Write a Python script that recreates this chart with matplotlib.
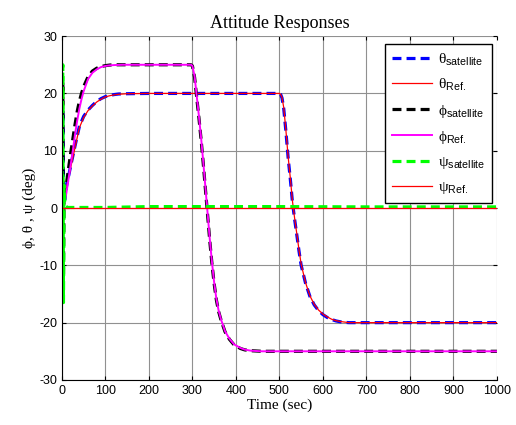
import matplotlib
matplotlib.use('Agg')
import matplotlib.pyplot as plt

# Werte (Zeit in s, Winkel in deg)
theta_ref_t = [0, 4, 10, 20, 30, 40, 50, 60, 70, 80, 90, 100, 110, 120, 130, 150, 200, 300, 400,
               500, 503, 506, 510, 515, 520, 525, 530, 535, 540, 545, 550, 560, 570, 580, 590,
               600, 610, 620, 630, 640, 650, 660, 800, 1000]
theta_ref = [0, 0, 3.3, 7, 10.5, 14, 15.8, 17, 17.8, 18.5, 19, 19.4, 19.6, 19.75, 19.85, 19.95, 20, 20, 20,
             20, 19.8, 19.3, 17.5, 13.5, 9, 5.3, 1.2, -1.8, -4.5, -7.3, -9.8, -13, -15.3, -16.8, -17.8,
             -18.5, -19, -19.4, -19.65, -19.8, -19.9, -20, -20, -20]

theta_sat_t = [0, 2, 3.5, 5, 7, 10, 20, 30, 40, 50, 60, 70, 80, 90, 100, 110, 120, 130, 150, 200, 300, 400,
               500, 503, 506, 510, 515, 520, 525, 530, 535, 540, 545, 550, 560, 570, 580, 590,
               600, 610, 620, 630, 640, 650, 660, 800, 1000]
theta_sat = [0, 17, 6, 1.5, 1.5, 3.6, 7.3, 10.8, 14.2, 16, 17.1, 17.9, 18.6, 19.1, 19.45, 19.65, 19.8, 19.9, 19.95, 20, 20, 20,
             20, 19.8, 19.2, 17.3, 13.3, 8.8, 5.1, 1, -2, -4.7, -7.5, -10, -13.1, -15.4, -16.9, -17.9,
             -18.6, -19.1, -19.45, -19.7, -19.85, -19.95, -20, -20, -20]

phi_ref_t = [0, 4, 10, 15, 20, 25, 30, 35, 40, 45, 50, 60, 70, 80, 90, 100, 110, 120, 140, 200,
             297, 300, 305, 310, 315, 320, 325, 330, 335, 340, 345, 350, 355, 360, 366, 375, 385,
             396, 410, 420, 435, 460, 700, 1000]
phi_ref = [0, 0, 2.5, 5, 7.5, 10, 12.8, 15.2, 17.3, 19, 20.4, 22.5, 23.6, 24.2, 24.6, 24.8, 24.9, 24.95, 25, 25,
           25, 24.8, 23, 19.5, 16, 12.2, 8, 3.5, -1, -5.5, -9.5, -13, -15.8, -17.8, -19.5, -21.5, -22.8,
           -23.8, -24.4, -24.7, -24.9, -25, -25, -25]

phi_sat_t = [0, 2, 3.5, 5, 7, 10, 15, 20, 25, 30, 35, 40, 45, 50, 60, 70, 80, 90, 100, 110, 120, 140, 200,
             297, 300, 305, 310, 315, 320, 325, 330, 335, 340, 345, 350, 355, 360, 366, 375, 385,
             396, 410, 420, 435, 460, 700, 1000]
phi_sat = [0, 22, -12, 3, 2.5, 4, 6.8, 9.5, 12, 14.5, 16.8, 18.6, 20, 21.2, 22.9, 23.9, 24.4, 24.7, 24.85, 24.95, 25, 25, 25,
           25, 24.8, 22.8, 19.2, 15.7, 11.9, 7.7, 3.2, -1.3, -5.8, -9.8, -13.2, -16, -18, -19.6, -21.6, -22.9,
           -23.9, -24.5, -24.75, -24.9, -25, -25, -25]

psi_ref_t = [0, 1000]
psi_ref = [0, 0]

psi_sat_t = [0, 2, 3.5, 5, 7, 12, 100, 200, 300, 500, 700, 1000]
psi_sat = [0, 25, -16.5, 4, 0.5, 0.1, 0.1, 0.25, 0.25, 0.25, 0.2, 0.2]

plt.rcParams['mathtext.fontset'] = 'custom'
plt.rcParams['mathtext.rm'] = 'Liberation Sans'
plt.rcParams['axes.unicode_minus'] = False

fig = plt.figure(figsize=(5.16, 4.25), dpi=100)
ax = fig.add_axes([0.120, 0.106, 0.843, 0.809])

dash = (0, (2.8, 1.6))
ax.plot(theta_sat_t, theta_sat, color='#0000ff', lw=2.3, ls=dash, label='θ$_{\\rm satellite}$')
ax.plot(theta_ref_t, theta_ref, color='#ff0000', lw=0.9, label='θ$_{\\rm Ref.}$')
ax.plot(phi_sat_t, phi_sat, color='black', lw=2.3, ls=dash, label='ϕ$_{\\rm satellite}$')
ax.plot(phi_ref_t, phi_ref, color='#ff00ff', lw=1.4, label='ϕ$_{\\rm Ref.}$')
ax.plot(psi_sat_t, psi_sat, color='#00ff00', lw=2.3, ls=dash, label='ψ$_{\\rm satellite}$')
ax.plot(psi_ref_t, psi_ref, color='#ff0000', lw=0.9, label='ψ$_{\\rm Ref.}$')

ax.set_xlim(0, 1000)
ax.set_ylim(-30, 30)
ax.set_xticks(range(0, 1001, 100))
ax.set_yticks(range(-30, 31, 10))
ax.grid(True, color='#909090', lw=0.8)
ax.tick_params(direction='in', top=True, right=True, length=3, labelsize=9)
for lab in ax.get_xticklabels() + ax.get_yticklabels():
    lab.set_family('Liberation Sans')
ax.spines['top'].set_visible(False)
ax.spines['right'].set_visible(False)

ax.set_title('Attitude Responses', family='Liberation Serif', fontsize=13, pad=6)
ax.set_xlabel('Time (sec)', family='Liberation Serif', fontsize=11, labelpad=1)
ax.set_ylabel('ϕ, θ , ψ (deg)', family='Liberation Serif', fontsize=11, labelpad=2)

leg = ax.legend(loc='upper right', bbox_to_anchor=(0.989, 0.977), prop={'family': 'Liberation Serif', 'size': 11},
                handlelength=2.6, labelspacing=0.6, fancybox=False, framealpha=1, borderaxespad=0,
                handletextpad=0.4, borderpad=0.45)
leg.get_frame().set_edgecolor('black')
leg.get_frame().set_linewidth(1.0)

fig.savefig('out.png', dpi=100)
